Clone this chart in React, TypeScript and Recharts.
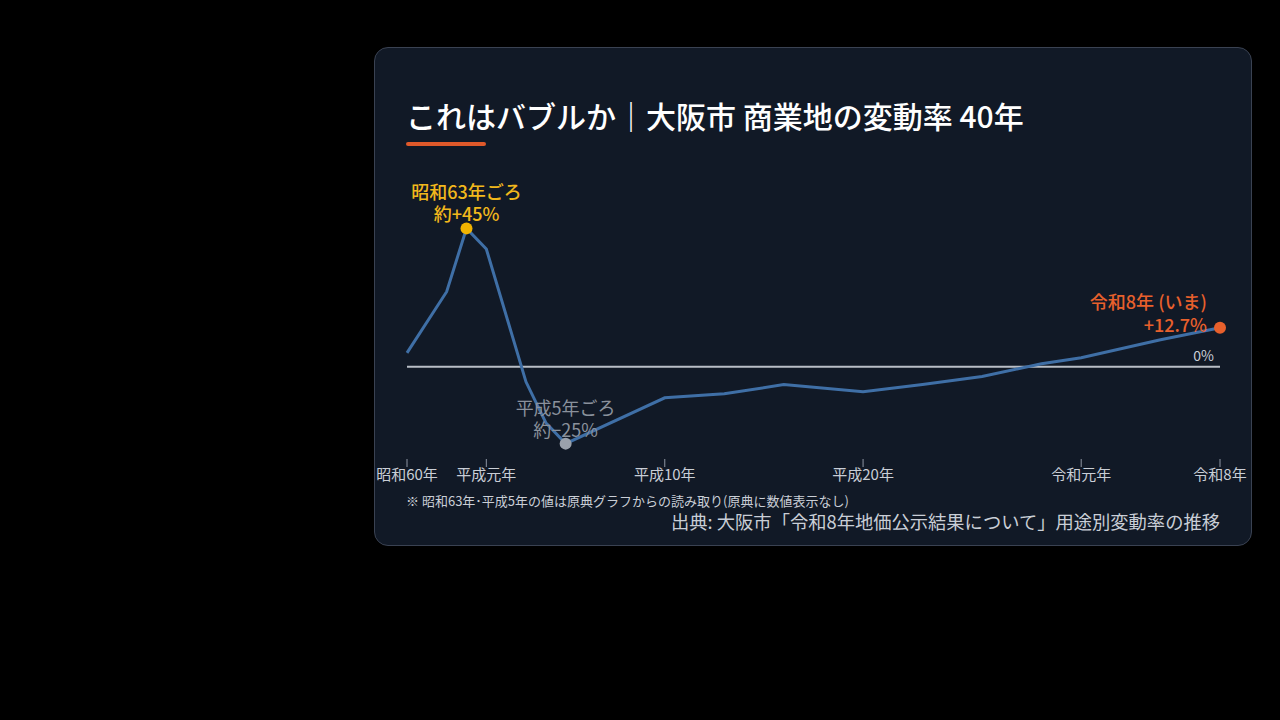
import React from "react";
import { LineChart, Line, XAxis, YAxis, ReferenceLine, ReferenceDot } from "recharts";

// Data
const years = [1985, 1987, 1988, 1989, 1991, 1992, 1993, 1998, 2001, 2004, 2008, 2011, 2014, 2017, 2019, 2023, 2026];
const rates = [4.5, 24.4, 45, 38.3, -4.9, -18.2, -25, -10.1, -8.8, -5.8, -8.1, -5.8, -3.2, 1.0, 2.9, 8.8, 12.7];

const tickYears = [1985, 1989, 1998, 2008, 2019, 2026];
const tickLabels = ["昭和60年", "平成元年", "平成10年", "平成20年", "令和元年", "令和8年"];

const peak = { year: 1988, value: 45, line1: "昭和63年ごろ", line2: "約+45%" };
const trough = { year: 1993, value: -25, line1: "平成5年ごろ", line2: "約−25%" };
const latest = { year: 2026, value: 12.7, line1: "令和8年 (いま)", line2: "+12.7%" };

const title = "これはバブルか｜大阪市 商業地の変動率 40年";
const footnote = "※ 昭和63年･平成5年の値は原典グラフからの読み取り(原典に数値表示なし)";
const source = "出典: 大阪市「令和8年地価公示結果について」用途別変動率の推移";

const data = years.map((y, i) => ({ year: y, rate: rates[i] }));

const FONT = '"Noto Sans CJK JP", "Noto Sans", sans-serif';

const labelFor = (y: number) => {
  const i = tickYears.indexOf(y);
  return i >= 0 ? tickLabels[i] : String(y);
};

function makeDot(color: string, textColor: string, l1: string, l2: string, mode: "above" | "aboveRight", weight: number) {
  return (props: any) => {
    const { cx, cy } = props;
    if (cx == null || cy == null) return <g />;
    const common = { dominantBaseline: "central" as const, fill: textColor, fontSize: 18, fontWeight: weight, fontFamily: FONT };
    if (mode === "above") {
      return (
        <g>
          <text x={cx} y={cy - 37} textAnchor="middle" {...common}>{l1}</text>
          <text x={cx} y={cy - 15} textAnchor="middle" {...common}>{l2}</text>
          <circle cx={cx} cy={cy} r={6} fill={color} />
        </g>
      );
    }
    return (
      <g>
        <text x={cx - 13} y={cy - 27} textAnchor="end" {...common}>{l1}</text>
        <text x={cx - 13} y={cy - 4} textAnchor="end" {...common}>{l2}</text>
        <circle cx={cx} cy={cy} r={6} fill={color} />
      </g>
    );
  };
}

export default function App() {
  return (
    <div style={{ position: "fixed", left: 0, top: 0, width: 1280, height: 720, background: "#000", fontFamily: FONT, overflow: "hidden" }}>
      <div
        style={{
          position: "absolute",
          left: 374,
          top: 47,
          width: 878,
          height: 499,
          boxSizing: "border-box",
          background: "#111926",
          border: "1px solid #3a4252",
          borderRadius: 14,
        }}
      />
      <div style={{ position: "absolute", left: 406, top: 97, fontSize: 30, lineHeight: "36px", color: "#ffffff", fontWeight: 500, whiteSpace: "nowrap" }}>
        {title}
      </div>
      <div style={{ position: "absolute", left: 406, top: 142, width: 80, height: 4, borderRadius: 2, background: "#e0592a" }} />
      <div style={{ position: "absolute", left: 0, top: 0 }}>
        <LineChart width={1280} height={720} data={data} margin={{ top: 213, right: 60, bottom: 231, left: 407 }}>
          <XAxis
            dataKey="year"
            type="number"
            domain={[1985, 2026]}
            ticks={tickYears}
            tickFormatter={labelFor}
            axisLine={false}
            tickLine={{ stroke: "#8f96a3", strokeWidth: 1 }}
            tickSize={8}
            height={30}
            interval={0}
            tick={{ fill: "#c9ced6", fontSize: 15, fontFamily: FONT }}
          />
          <YAxis hide domain={[-30, 50]} width={0} />
          <ReferenceLine
            y={0}
            stroke="#b9bec6"
            strokeWidth={2}
            label={{ value: "0%", position: "insideBottomRight", fill: "#c9ced6", fontSize: 14, fontFamily: FONT, offset: 6 }}
          />
          <Line type="linear" dataKey="rate" stroke="#3f6fa6" strokeWidth={3} dot={false} activeDot={false} isAnimationActive={false} />
          <ReferenceDot x={peak.year} y={peak.value} shape={makeDot("#f2b400", "#f2b81c", peak.line1, peak.line2, "above", 500)} />
          <ReferenceDot x={trough.year} y={trough.value} shape={makeDot("#9aa1ab", "#8a919c", trough.line1, trough.line2, "above", 400)} />
          <ReferenceDot x={latest.year} y={latest.value} shape={makeDot("#e8602c", "#e8602c", latest.line1, latest.line2, "aboveRight", 500)} />
        </LineChart>
      </div>
      <div style={{ position: "absolute", left: 406, top: 492, fontSize: 13, lineHeight: "18px", color: "#c9ced6", whiteSpace: "nowrap" }}>
        {footnote}
      </div>
      <div style={{ position: "absolute", right: 1280 - 1220, top: 509, fontSize: 18.3, lineHeight: "24px", color: "#c9ced6", whiteSpace: "nowrap" }}>
        {source}
      </div>
    </div>
  );
}
